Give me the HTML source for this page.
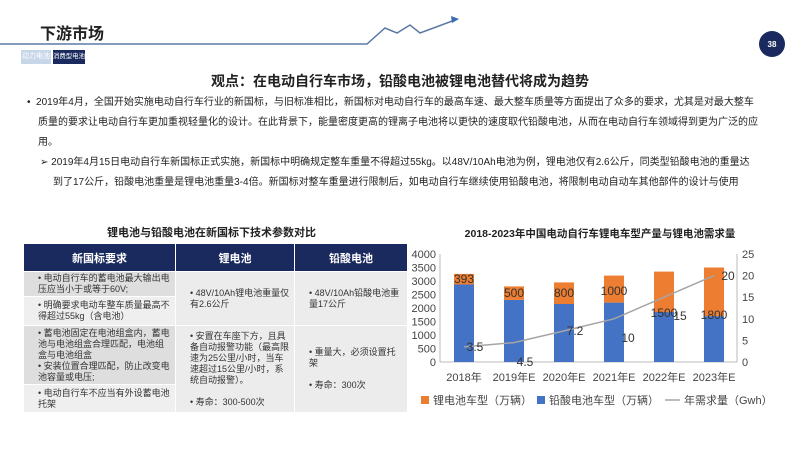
<!DOCTYPE html>
<html><head><meta charset="utf-8"><style>
body{margin:0;width:800px;height:450px;background:#fff;position:relative;overflow:hidden;font-family:"Liberation Sans","Noto Sans CJK SC",sans-serif;color:#222}
.a{position:absolute;white-space:nowrap}
table{position:absolute;left:23px;top:243px;border-collapse:collapse;font-size:9px;color:#333}
td{padding:0 4px 0 14px;vertical-align:middle;border:1px solid #fff;position:relative;line-height:11px;white-space:normal}
th{background:#1a2a5e;color:#fff;font-size:11px;height:25px;border:1px solid #fff;font-weight:bold}
.t{position:absolute;white-space:nowrap;font-size:10px;line-height:14px}
</style></head><body>
<div class="a" style="left:40px;top:20px;font-size:16px;font-weight:bold">下游市场</div>
<svg class="a" style="left:0;top:0" width="800" height="70">
<polyline points="0,44 367,44 385,28 397,33 410,25 420,33 455,20" fill="none" stroke="#5a7aa6" stroke-width="1.5"/>
<polygon points="459,19 451,16 452,23" fill="#3a6cb0"/>
<circle cx="772" cy="44" r="13" fill="#1a2a5e"/>
<text x="772" y="47" fill="#fff" font-size="8" font-weight="bold" text-anchor="middle" font-family="Liberation Sans">38</text>
</svg>
<div class="a" style="left:21px;top:50px;width:30px;height:14px;background:#c8d6ea;color:#fff;font-size:7px;line-height:14px;text-align:center;overflow:hidden">动力电池</div>
<div class="a" style="left:53px;top:50px;width:32px;height:14px;background:#1a2a5e;color:#fff;font-size:6.4px;line-height:14px;text-align:center;overflow:hidden">消费型电池</div>
<div class="a" style="left:0;width:800px;top:71px;text-align:center;font-size:14px;font-weight:bold">观点：在电动自行车市场，铅酸电池被锂电池替代将成为趋势</div>
<div class="t" style="left:27px;top:96px">•&nbsp;&nbsp;2019年4月，全国开始实施电动自行车行业的新国标，与旧标准相比，新国标对电动自行车的最高车速、最大整车质量等方面提出了众多的要求，尤其是对最大整车</div>
<div class="t" style="left:38px;top:116px">质量的要求让电动自行车更加重视轻量化的设计。在此背景下，能量密度更高的锂离子电池将以更快的速度取代铅酸电池，从而在电动自行车领域得到更为广泛的应</div>
<div class="t" style="left:38px;top:136px">用。</div>
<div class="t" style="left:40px;top:156px">➢ 2019年4月15日电动自行车新国标正式实施，新国标中明确规定整车重量不得超过55kg。以48V/10Ah电池为例，锂电池仅有2.6公斤，同类型铅酸电池的重量达</div>
<div class="t" style="left:53px;top:176px">到了17公斤，铅酸电池重量是锂电池重量3-4倍。新国标对整车重量进行限制后，如电动自行车继续使用铅酸电池，将限制电动自动车其他部件的设计与使用</div>
<div class="a" style="left:23px;width:377px;top:224px;text-align:center;font-size:11px;font-weight:bold">锂电池与铅酸电池在新国标下技术参数对比</div>
<table>
<tr><th style="width:149px">新国标要求</th><th style="width:116px">锂电池</th><th style="width:110px">铅酸电池</th></tr>
<tr><td style="height:24px;background:#dedede">•&nbsp;电动自行车的蓄电池最大输出电压应当小于或等于60V;</td><td rowspan="2" style="background:#ececec">• 48V/10Ah锂电池重量仅有2.6公斤</td><td rowspan="2" style="background:#ececec">• 48V/10Ah铅酸电池重量17公斤</td></tr>
<tr><td style="height:28px;background:#efefef">•&nbsp;明确要求电动车整车质量最高不得超过55kg（含电池）</td></tr>
<tr><td style="height:58px;background:#dedede">•&nbsp;蓄电池固定在电池组盒内，蓄电池与电池组盒合理匹配，电池组盒与电池组盒<br>•&nbsp;安装位置合理匹配，防止改变电池容量或电压;</td><td rowspan="2" style="background:#ececec">• 安置在车座下方，且具备自动报警功能（最高限速为25公里/小时，当车速超过15公里/小时，系统自动报警）。<br><br>• 寿命：300-500次</td><td rowspan="2" style="background:#ececec">• 重量大，必须设置托架<br><br>• 寿命：300次</td></tr>
<tr><td style="height:27px;background:#efefef">•&nbsp;电动自行车不应当有外设蓄电池托架</td></tr>
</table>
<div class="a" style="left:400px;width:400px;top:226px;text-align:center;font-size:10.5px;font-weight:bold">2018-2023年中国电动自行车锂电车型产量与锂电池需求量</div>
<svg class="a" style="left:400px;top:240px" width="400" height="180" font-family="Liberation Sans,Noto Sans CJK SC,sans-serif" font-size="11" fill="#444">
<g text-anchor="end">
<text x="36" y="126">0</text><text x="36" y="99">1000</text><text x="36" y="72">2000</text><text x="36" y="45">3000</text><text x="36" y="18">4000</text>
<text x="36" y="112.5">500</text><text x="36" y="85.5">1500</text><text x="36" y="58.5">2500</text><text x="36" y="31.5">3500</text>
</g>
<line x1="40" y1="14" x2="40" y2="122" stroke="#bbb"/>
<line x1="337" y1="14" x2="337" y2="122" stroke="#bbb"/>
<line x1="40" y1="122" x2="337" y2="122" stroke="#bbb"/>
<g text-anchor="start">
<text x="342" y="126">0</text><text x="342" y="104.4">5</text><text x="342" y="82.8">10</text><text x="342" y="61.2">15</text><text x="342" y="39.6">20</text><text x="342" y="18">25</text>
</g>
<g fill="#4472c4">
<rect x="54" y="44.5" width="20" height="77.5"/>
<rect x="104" y="59.9" width="20" height="62.1"/>
<rect x="154" y="64" width="20" height="58"/>
<rect x="204" y="62.6" width="20" height="59.4"/>
<rect x="254" y="72" width="20" height="50"/>
<rect x="304" y="76.1" width="20" height="45.9"/>
</g>
<g fill="#ed7d31">
<rect x="54" y="33.9" width="20" height="10.6"/>
<rect x="104" y="46.4" width="20" height="13.5"/>
<rect x="154" y="42.4" width="20" height="21.6"/>
<rect x="204" y="35.6" width="20" height="27"/>
<rect x="254" y="31.6" width="20" height="40.5"/>
<rect x="304" y="27.5" width="20" height="48.6"/>
</g>
<polyline points="64,106.9 114,102.6 164,90.9 214,78.8 264,57.2 314,35.6" fill="none" stroke="#a5a5a5" stroke-width="1.5"/>
<g font-size="12" fill="#333" text-anchor="middle">
<text x="64" y="43">393</text><text x="114" y="57">500</text><text x="164" y="57">800</text><text x="214" y="55">1000</text><text x="264" y="77">1500</text><text x="314" y="79">1800</text>
<text x="75" y="111">3.5</text><text x="125" y="126">4.5</text><text x="175" y="95">7.2</text><text x="228" y="102">10</text><text x="280" y="80">15</text><text x="328" y="40">20</text>
</g>
<g text-anchor="middle" fill="#444">
<text x="64" y="141">2018年</text><text x="114" y="141">2019年E</text><text x="164" y="141">2020年E</text><text x="214" y="141">2021年E</text><text x="264" y="141">2022年E</text><text x="314" y="141">2023年E</text>
</g>
<rect x="21" y="156" width="8" height="8" fill="#ed7d31"/><text x="33" y="164">锂电池车型（万辆）</text>
<rect x="137" y="156" width="8" height="8" fill="#4472c4"/><text x="149" y="164">铅酸电池车型（万辆）</text>
<line x1="265" y1="160" x2="280" y2="160" stroke="#a5a5a5" stroke-width="1.5"/><text x="284" y="164">年需求量（Gwh）</text>
</svg>
</body></html>
